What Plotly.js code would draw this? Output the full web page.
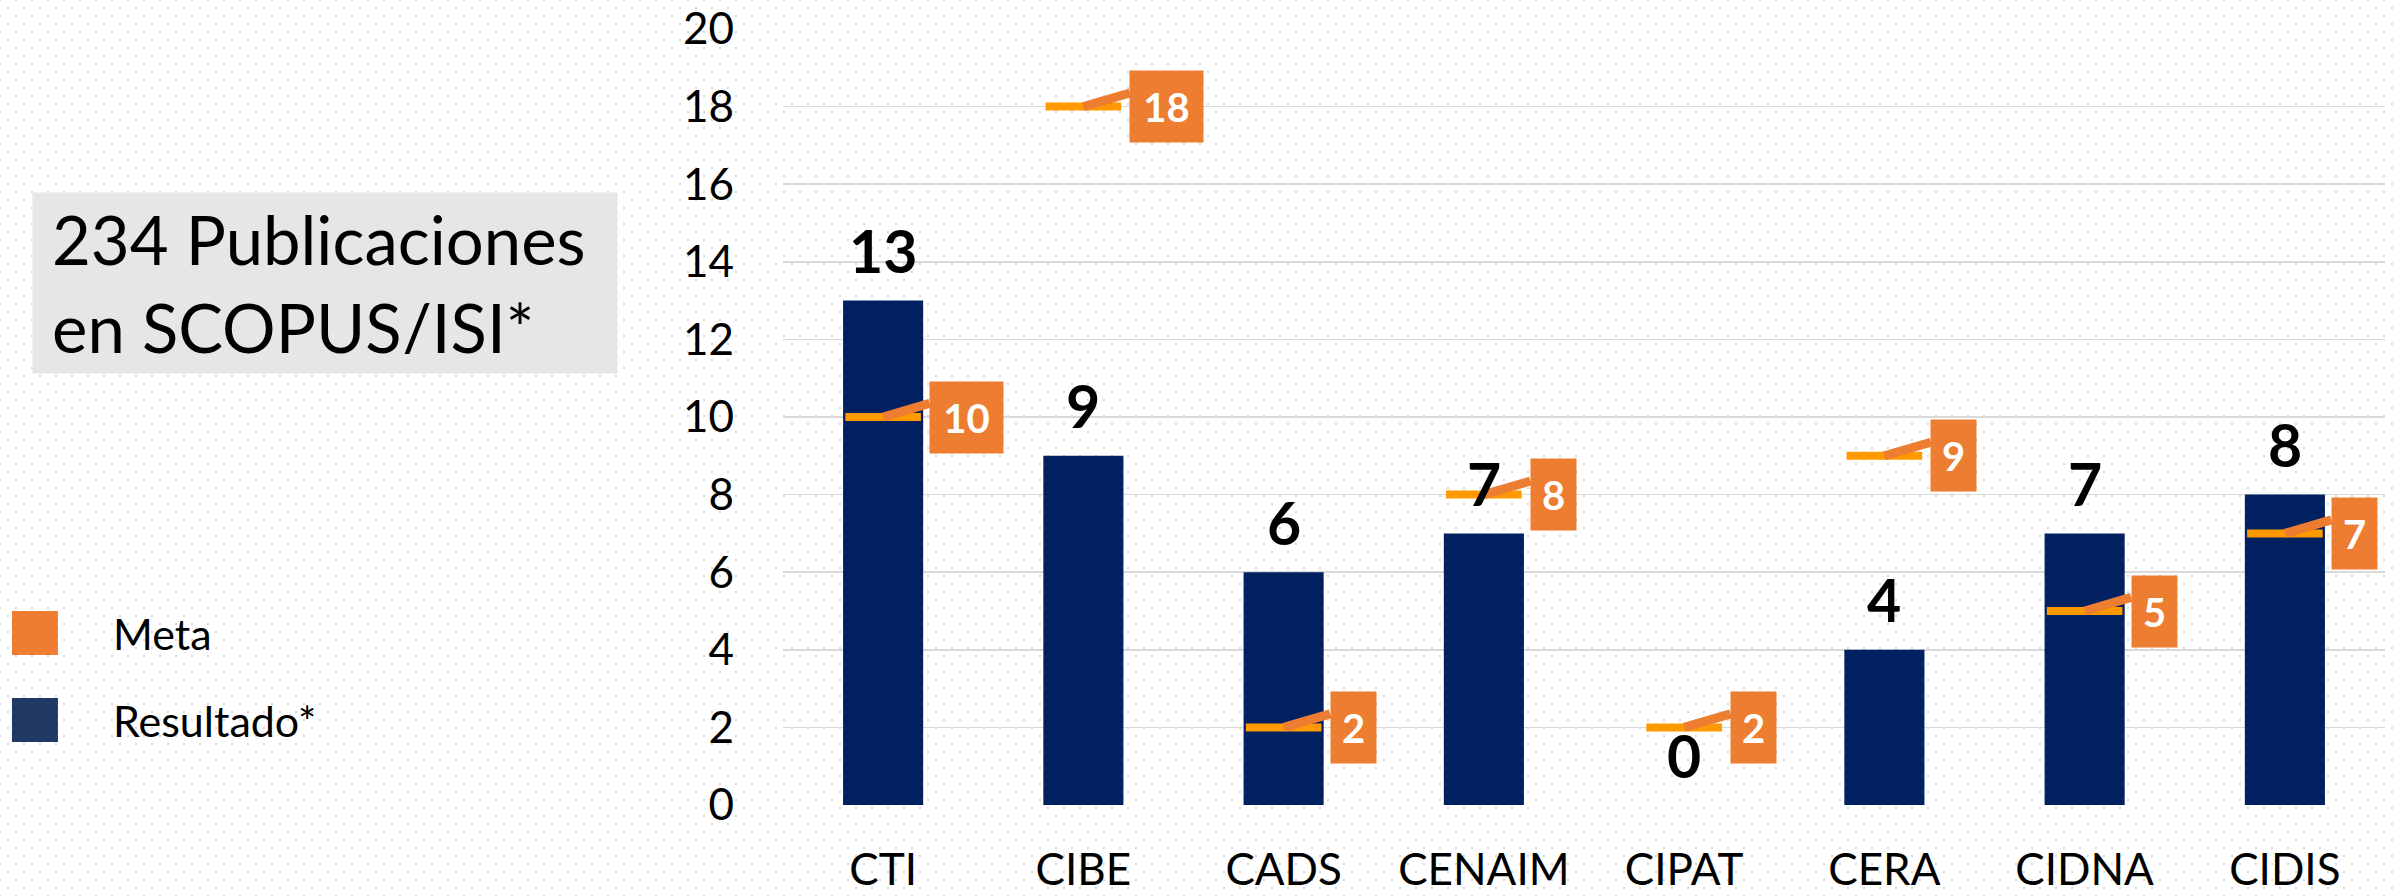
<!DOCTYPE html>
<html>
<head>
<meta charset="utf-8">
<script src="https://cdn.plot.ly/plotly-3.0.1.min.js"></script>
<style>
  html, body { margin: 0; padding: 0; }
  body {
    width: 2395px; height: 896px; overflow: hidden;
    background-color: #ffffff;
    background-image:
      radial-gradient(circle, #d9d9d9 1px, transparent 1.6px),
      radial-gradient(circle, #d9d9d9 1px, transparent 1.6px);
    background-size: 16px 16px, 16px 16px;
    background-position: 0px 0px, 8px 8px;
  }
  #chart { width: 2395px; height: 896px; }
</style>
</head>
<body>
<div id="chart"></div>
<script>
// ---- data ----
const categories = ['CTI', 'CIBE', 'CADS', 'CENAIM', 'CIPAT', 'CERA', 'CIDNA', 'CIDIS'];
const resultado = [13, 9, 6, 7, 0, 4, 7, 8];
const meta = [10, 18, 2, 8, 2, 9, 5, 7];
const yTicks = [0, 2, 4, 6, 8, 10, 12, 14, 16, 18, 20];
const boxTitle = '234 Publicaciones<br>en SCOPUS/ISI*';
const seriesNames = ['Meta', 'Resultado*'];

// ---- style ----
const FONT = 'Lato, "Open Sans", sans-serif';
const NAVY = '#002060';
const ORANGE = '#ED7D31';
const META_LINE = '#FF9900';

const traces = [
  {
    type: 'bar',
    name: seriesNames[1],
    x: categories,
    y: resultado,
    marker: { color: NAVY, line: { width: 0 } },
    hoverinfo: 'x+y'
  },
  {
    type: 'scatter',
    mode: 'markers',
    name: seriesNames[0],
    x: categories,
    y: meta,
    marker: { symbol: 'line-ew', size: 54, color: META_LINE, line: { color: META_LINE, width: 8 } },
    hoverinfo: 'x+y'
  }
];

const annotations = [];
// callout tails
categories.forEach((c, i) => {
  annotations.push({
    x: c, y: meta[i], xref: 'x', yref: 'y',
    text: '', showarrow: true, arrowhead: 0, arrowwidth: 9,
    arrowcolor: ORANGE, ax: 48, ay: -14, standoff: 0, startstandoff: 0
  });
});
// callout boxes
categories.forEach((c, i) => {
  const t = String(meta[i]);
  annotations.push({
    x: c, y: meta[i], xref: 'x', yref: 'y',
    text: '<b>' + t + '</b>', showarrow: false,
    xanchor: 'left', yanchor: 'middle', xshift: 46,
    width: 17 + 28 * t.length - 8, height: 63, borderpad: 4,
    bgcolor: ORANGE, align: 'center', valign: 'middle',
    font: { family: FONT, size: 40, color: '#ffffff' }
  });
});
// result labels
categories.forEach((c, i) => {
  annotations.push({
    x: c, y: resultado[i], xref: 'x', yref: 'y',
    text: '<b>' + resultado[i] + '</b>', showarrow: false,
    xanchor: 'center', yanchor: 'middle', yshift: 50,
    font: { family: FONT, size: 59, color: '#000000' }
  });
});
// text box
annotations.push({
  xref: 'paper', yref: 'paper', x: -0.4688, y: 0.6727,
  xanchor: 'left', yanchor: 'middle',
  text: boxTitle, showarrow: false, align: 'left', valign: 'middle',
  width: 546, height: 142, borderpad: 19, bgcolor: '#E7E6E6',
  font: { family: FONT, size: 67, color: '#000000' }
});
// custom legend labels
annotations.push({
  xref: 'paper', yref: 'paper', x: -0.4195, y: 0.2204,
  xanchor: 'left', yanchor: 'middle', showarrow: false,
  text: seriesNames[0], font: { family: FONT, size: 43, color: '#000000' }
});
annotations.push({
  xref: 'paper', yref: 'paper', x: -0.4195, y: 0.1095,
  xanchor: 'left', yanchor: 'middle', showarrow: false,
  text: seriesNames[1], font: { family: FONT, size: 43, color: '#000000' }
});

const shapes = [
  { type: 'rect', xref: 'paper', yref: 'paper', x0: -0.4813, x1: -0.4526, y0: 0.1933, y1: 0.25,
    fillcolor: ORANGE, line: { width: 0 } },
  { type: 'rect', xref: 'paper', yref: 'paper', x0: -0.4813, x1: -0.4526, y0: 0.0812, y1: 0.1379,
    fillcolor: '#1F3864', line: { width: 0 } }
];

const layout = {
  width: 2395, height: 896,
  margin: { l: 783, r: 10, t: 29, b: 91, pad: 0 },
  paper_bgcolor: 'rgba(0,0,0,0)',
  plot_bgcolor: 'rgba(0,0,0,0)',
  showlegend: false,
  bargap: 0.6,
  font: { family: FONT, color: '#000000' },
  xaxis: {
    type: 'category',
    categoryorder: 'array', categoryarray: categories,
    range: [-0.5, categories.length - 0.5],
    tickfont: { family: FONT, size: 44, color: '#000000' },
    showgrid: false, showline: false, zeroline: false,
    ticks: '', ticklabelstandoff: 35, automargin: false
  },
  yaxis: {
    range: [0, 20], tickvals: yTicks,
    tickfont: { family: FONT, size: 44, color: '#000000' },
    showgrid: true, gridcolor: '#D9D9D9', gridwidth: 1.5,
    zeroline: false, showline: false, ticks: '', ticklabelstandoff: 48, automargin: false
  },
  annotations: annotations,
  shapes: shapes
};

Plotly.newPlot('chart', traces, layout, { displayModeBar: false, staticPlot: true });
</script>
</body>
</html>
